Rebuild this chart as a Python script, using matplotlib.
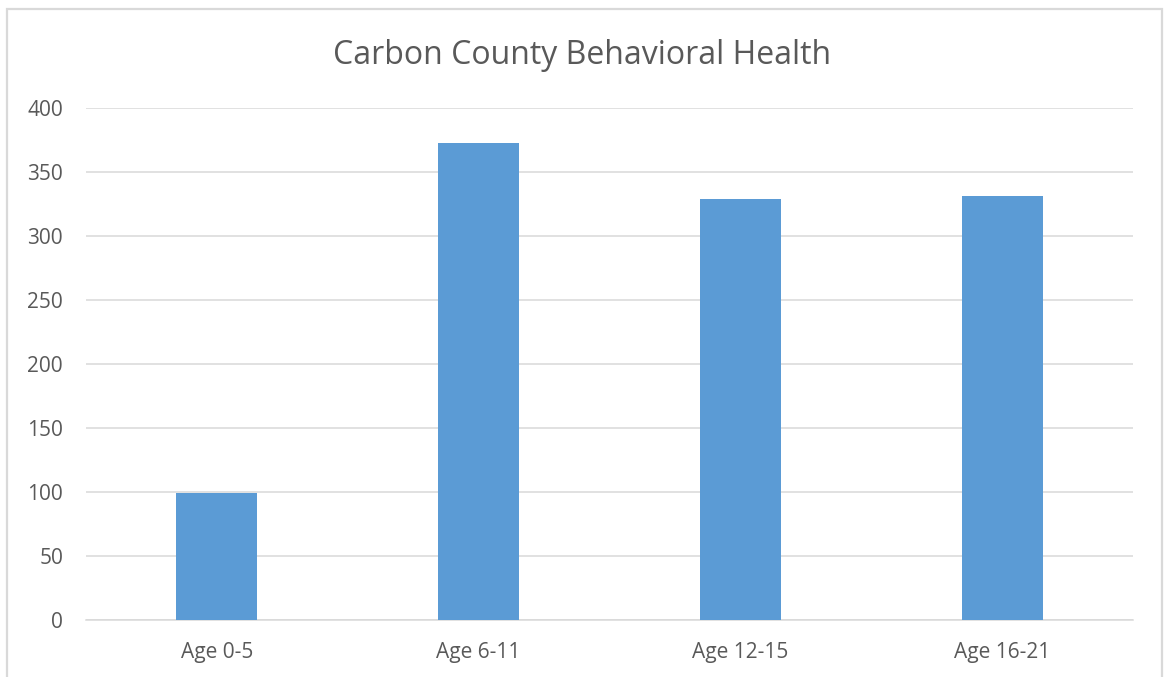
import matplotlib.pyplot as plt
from matplotlib.patches import Rectangle

# данные графика
categories = ['Age 0-5', 'Age 6-11', 'Age 12-15', 'Age 16-21']
values = [99, 373, 329, 331]
y_ticks = [0, 50, 100, 150, 200, 250, 300, 350, 400]

plt.rcParams['font.family'] = ['Open Sans', 'DejaVu Sans']

W, H = 1166, 677
fig = plt.figure(figsize=(W / 100, H / 100), dpi=100)

# рамка вокруг диаграммы
fig.patches.append(Rectangle((7 / W, -0.05), (1162 - 7) / W, 1.05 - 9 / H,
                             transform=fig.transFigure, fill=False,
                             edgecolor='#d9d9d9', linewidth=1.6))

ax = fig.add_axes([86 / W, 1 - 620 / H, (1133 - 86) / W, (620 - 108) / H])
x = range(len(categories))
ax.bar(x, values, width=0.31, color='#5b9bd5', zorder=3)

ax.set_xlim(-0.5, len(categories) - 0.5)
ax.set_ylim(0, 400)
ax.set_yticks(y_ticks)
ax.set_xticks(list(x))
ax.set_xticklabels(categories)

# сетка и оформление осей
ax.grid(axis='y', color='#d9d9d9', linewidth=1.1, zorder=0)
for s in ['top', 'right', 'left']:
    ax.spines[s].set_visible(False)
ax.spines['bottom'].set_color('#d9d9d9')
ax.spines['bottom'].set_linewidth(1.1)
ax.tick_params(axis='both', length=0, labelsize=15, colors='#595959')
ax.tick_params(axis='y', pad=16.5)
ax.tick_params(axis='x', pad=16)

fig.text((335 + 830) / 2 / W, 1 - 55 / H, 'Carbon County Behavioral Health',
         ha='center', va='center', fontsize=23, color='#595959')

fig.savefig('out.png', dpi=100)
